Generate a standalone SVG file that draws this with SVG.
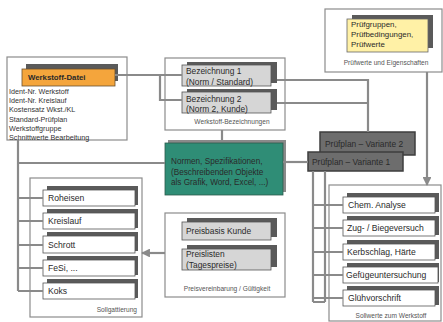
<svg xmlns="http://www.w3.org/2000/svg" width="443" height="322" viewBox="0 0 443 322">
<style>
text{font-family:"Liberation Sans",Arial,sans-serif;fill:#2a2a2a}
.outer{fill:#fff;stroke:#8c8c8c;stroke-width:1.2}
.lbl{font-size:6.6px;fill:#555}
.sh{fill:#5a5a5a}
.item{fill:#fff;stroke:#555;stroke-width:0.8}
.it{font-size:8.6px}
.gray{fill:#d6d6d6;stroke:#555;stroke-width:0.8}
.con{fill:none;stroke:#8a8a8a;stroke-width:2.2}
.small{font-size:7.2px;fill:#333}
</style>
<defs>
<marker id="ah" viewBox="0 0 10 10" refX="9" refY="5" markerWidth="4" markerHeight="4" orient="auto-start-reverse">
<path d="M0,0 L10,5 L0,10 z" fill="#8a8a8a"/>
</marker>
</defs>
<rect width="443" height="322" fill="#fff"/>

<!-- outer container boxes -->
<g id="werkstoff">
<rect class="outer" x="7" y="57" width="120" height="83"/>
<rect class="sh" x="26" y="64" width="92" height="17"/>
<rect x="22" y="69" width="93" height="17" fill="#f4a53c" stroke="#6a5030" stroke-width="0.8"/>
<text x="28" y="80" font-size="7.8" font-weight="bold" fill="#333">Werkstoff-Datei</text>
<text class="small" x="9" y="94">Ident-Nr. Werkstoff</text>
<text class="small" x="9" y="103">Ident-Nr. Kreislauf</text>
<text class="small" x="9" y="112">Kostensatz Wkst./KL</text>
<text class="small" x="9" y="122">Standard-Prüfplan</text>
<text class="small" x="9" y="131">Werkstoffgruppe</text>
<text class="small" x="9" y="140">Schnittwerte Bearbeitung</text>
</g>

<g id="bezeichnungen">
<rect class="outer" x="165" y="58" width="120" height="72"/>
<rect class="sh" x="187" y="62" width="90" height="21"/>
<rect class="gray" x="182" y="65" width="89" height="21"/>
<text x="186" y="74" font-size="8.4">Bezeichnung 1</text>
<text x="186" y="85" font-size="8.4">(Norm / Standard)</text>
<rect class="sh" x="187" y="89" width="90" height="21"/>
<rect class="gray" x="182" y="92" width="89" height="21"/>
<text x="186" y="102" font-size="8.4">Bezeichnung 2</text>
<text x="186" y="112" font-size="8.4">(Norm 2, Kunde)</text>
<text class="lbl" x="232" y="124" text-anchor="middle">Werkstoff-Bezeichnungen</text>
</g>

<g id="pruefwerte">
<rect class="outer" x="325" y="9" width="117" height="63"/>
<rect class="sh" x="352" y="15" width="81" height="33"/>
<rect x="347" y="19" width="81" height="33" fill="#fff1a6" stroke="#666" stroke-width="0.8"/>
<text x="351" y="27" font-size="7.9">Prüfgruppen,</text>
<text x="351" y="37" font-size="7.9">Prüfbedingungen,</text>
<text x="351" y="47" font-size="7.9">Prüfwerte</text>
<text class="lbl" x="386" y="65" text-anchor="middle">Prüfwerte und Eigenschaften</text>
</g>

<g id="normen">
<rect x="168" y="140" width="118" height="52" fill="#8a8a8a"/>
<rect x="165" y="143" width="118" height="52" fill="#2f8d76" stroke="#2b5a4c" stroke-width="0.8"/>
<text x="171" y="164" font-size="8.2" fill="#163a30">Normen, Spezifikationen,</text>
<text x="171" y="175" font-size="8.2" fill="#163a30">(Beschreibenden Objekte</text>
<text x="171" y="185" font-size="8.2" fill="#163a30">als Grafik, Word, Excel, ...)</text>
</g>

<g id="pruefplan2">
<rect x="320" y="132" width="95" height="23" fill="#6d6d6d" stroke="#3e3e3e" stroke-width="1.5"/>
<text x="325" y="147" font-size="8.4" fill="#ececec">Prüfplan – Variante 2</text>
</g>
<g id="pruefplan1">
<rect x="308" y="152" width="95" height="19" fill="#6d6d6d" stroke="#3e3e3e" stroke-width="1.5"/>
<text x="312" y="165" font-size="8.4" fill="#ececec">Prüfplan – Variante 1</text>
</g>

<g id="sollgattierung">
<rect class="outer" x="30" y="178" width="112" height="139"/>
<rect class="sh" x="47" y="186" width="91" height="19"/>
<rect class="item" x="43" y="190" width="92" height="16"/>
<text class="it" x="48" y="201">Roheisen</text>
<rect class="sh" x="47" y="209" width="91" height="19"/>
<rect class="item" x="43" y="213" width="92" height="16"/>
<text class="it" x="48" y="224">Kreislauf</text>
<rect class="sh" x="47" y="232" width="91" height="19"/>
<rect class="item" x="43" y="236" width="92" height="17"/>
<text class="it" x="48" y="248">Schrott</text>
<rect class="sh" x="47" y="256" width="91" height="19"/>
<rect class="item" x="43" y="260" width="92" height="16"/>
<text class="it" x="48" y="271">FeSi, ...</text>
<rect class="sh" x="47" y="279" width="91" height="19"/>
<rect class="item" x="43" y="283" width="92" height="16"/>
<text class="it" x="48" y="294">Koks</text>
<text class="lbl" x="137" y="312" text-anchor="end">Sollgattierung</text>
</g>

<g id="preis">
<rect class="outer" x="165" y="213" width="120" height="84"/>
<rect class="sh" x="187" y="218" width="90" height="19"/>
<rect class="gray" x="182" y="222" width="89" height="18"/>
<text x="186" y="234" font-size="8.4">Preisbasis Kunde</text>
<rect class="sh" x="187" y="245" width="90" height="22"/>
<rect class="gray" x="182" y="249" width="89" height="21"/>
<text x="186" y="257" font-size="8.4">Preislisten</text>
<text x="186" y="268" font-size="8.4">(Tagespreise)</text>
<text class="lbl" x="227" y="291" text-anchor="middle">Preisvereinbarung / Gültigkeit</text>
</g>

<g id="sollwerte">
<rect class="outer" x="329" y="185" width="112" height="136"/>
<rect class="sh" x="347" y="193" width="92" height="19"/>
<rect class="item" x="343" y="197" width="92" height="16"/>
<text class="it" x="348" y="208">Chem. Analyse</text>
<rect class="sh" x="347" y="216" width="92" height="19"/>
<rect class="item" x="343" y="220" width="92" height="16"/>
<text class="it" x="347" y="231">Zug- / Biegeversuch</text>
<rect class="sh" x="347" y="240" width="92" height="19"/>
<rect class="item" x="343" y="244" width="92" height="16"/>
<text class="it" x="347" y="255">Kerbschlag, Härte</text>
<rect class="sh" x="347" y="263" width="92" height="19"/>
<rect class="item" x="343" y="267" width="95" height="16"/>
<text class="it" x="346" y="278">Gefügeuntersuchung</text>
<rect class="sh" x="347" y="286" width="92" height="19"/>
<rect class="item" x="343" y="290" width="92" height="16"/>
<text class="it" x="348" y="301">Glühvorschrift</text>
<text class="lbl" x="391" y="318" text-anchor="middle">Sollwerte zum Werkstoff</text>
</g>

<g id="connectors">
<path class="con" d="M115,75 H182 M160,75 V100 H182"/>
<path class="con" d="M277,80 H368 V132 M277,103 H368"/>
<path class="con" d="M222,130 V140"/>
<path class="con" d="M18,140 V291 M18,163 H165 M18,198 H43 M18,221 H43 M18,245 H43 M18,268 H43 M18,291 H43"/>
<path class="con" d="M283,162 H308"/>
<path class="con" d="M313,171 V302 M325,171 V302 M313,205 H343 M313,228 H343 M313,252 H343 M313,275 H343 M313,298 H343 M313,302 H325"/>
<path class="con" d="M427,72 V185" marker-end="url(#ah)"/>
<path class="con" d="M165,253 H142" marker-end="url(#ah)"/>
</g>
</svg>
